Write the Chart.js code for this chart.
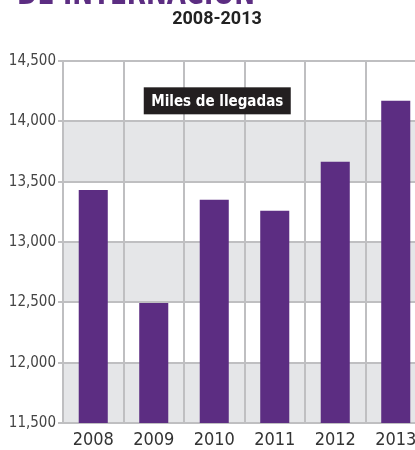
<!DOCTYPE html>
<html>
<head>
<meta charset="utf-8">
<script src="https://cdn.jsdelivr.net/npm/chart.js@4/dist/chart.umd.min.js"></script>
<style>
html,body{margin:0;padding:0;overflow:hidden;background:#fff;width:415px;height:450px;}
#wrap{position:absolute;left:0;top:0;width:440px;height:450px;}
</style>
</head>
<body>
<div id="wrap"><canvas id="c" width="440" height="450"></canvas></div>
<script>
const years = ["2008","2009","2010","2011","2012","2013"];
const arrivals = [13430, 12495, 13350, 13260, 13665, 14170];
const yTicks = [11500, 12000, 12500, 13000, 13500, 14000, 14500];
const shadedBands = [[11500,12000],[12500,13000],[13500,14000]];
const titleText = "2008-2013";
const headingText = "DE INTERNACIÓN";
const boxLabel = "Miles de llegadas";

const purple = "#5c2d82";
const gridCol = "#bfbfc1";
const narrow = "'DejaVu Sans Condensed', Roboto, sans-serif";

const decor = {
  id: "decor",
  beforeDraw(chart) {
    const {ctx, chartArea:a, scales:{y}} = chart;
    ctx.save();
    ctx.fillStyle = "#e5e6e8";
    shadedBands.forEach(([lo,hi]) => {
      const t = y.getPixelForValue(hi), b = y.getPixelForValue(lo);
      ctx.fillRect(a.left, t, a.right - a.left, b - t);
    });
    ctx.restore();
  },
  afterDraw(chart) {
    const {ctx, scales:{x,y}} = chart;
    ctx.save();
    ctx.fillStyle = purple;
    ctx.font = "bold 34px " + narrow;
    ctx.textBaseline = "alphabetic";
    ctx.textAlign = "left";
    ctx.fillText(headingText, 17, 4, 238);
    ctx.fillStyle = "#222";
    ctx.font = "bold 18px Roboto, 'Noto Sans', sans-serif";
    ctx.textAlign = "center";
    ctx.textBaseline = "middle";
    ctx.fillText(titleText, 217, 19);
    const cx = x.getPixelForValue(2) + 3;
    const cy = y.getPixelForValue(14170);
    ctx.font = "bold 15px " + narrow;
    const w = 147, h = 27;
    ctx.fillStyle = "#231f20";
    ctx.fillRect(cx - w/2, cy - h/2, w, h);
    ctx.fillStyle = "#fff";
    ctx.fillText(boxLabel, cx, cy + 1);
    ctx.restore();
  }
};

new Chart(document.getElementById("c"), {
  type: "bar",
  data: {
    labels: years,
    datasets: [{
      data: arrivals,
      backgroundColor: purple,
      barPercentage: 0.48,
      categoryPercentage: 1
    }]
  },
  options: {
    responsive: false,
    animation: false,
    layout: { padding: { top: 61, right: 14, left: 0, bottom: 0 } },
    plugins: { legend: { display: false }, tooltip: { enabled: false }, title: { display: false } },
    scales: {
      x: {
        offset: true,
        grid: { offset: true, color: gridCol, lineWidth: 2, drawTicks: false },
        border: { color: gridCol, width: 2 },
        ticks: { color: "#333", padding: 7, font: { family: narrow, size: 18 } },
        afterFit(s) { s.height = 27; }
      },
      y: {
        min: 11500, max: 14500,
        afterBuildTicks(s) { s.ticks = yTicks.map(v => ({ value: v })); },
        grid: { color: gridCol, lineWidth: 2, tickLength: 5 },
        border: { color: gridCol, width: 2 },
        ticks: {
          color: "#444", padding: 2,
          font: { family: narrow, size: 15 },
          callback: v => v.toLocaleString("en-US")
        },
        afterFit(s) { s.width = 63; }
      }
    }
  },
  plugins: [decor]
});
</script>
</body>
</html>
